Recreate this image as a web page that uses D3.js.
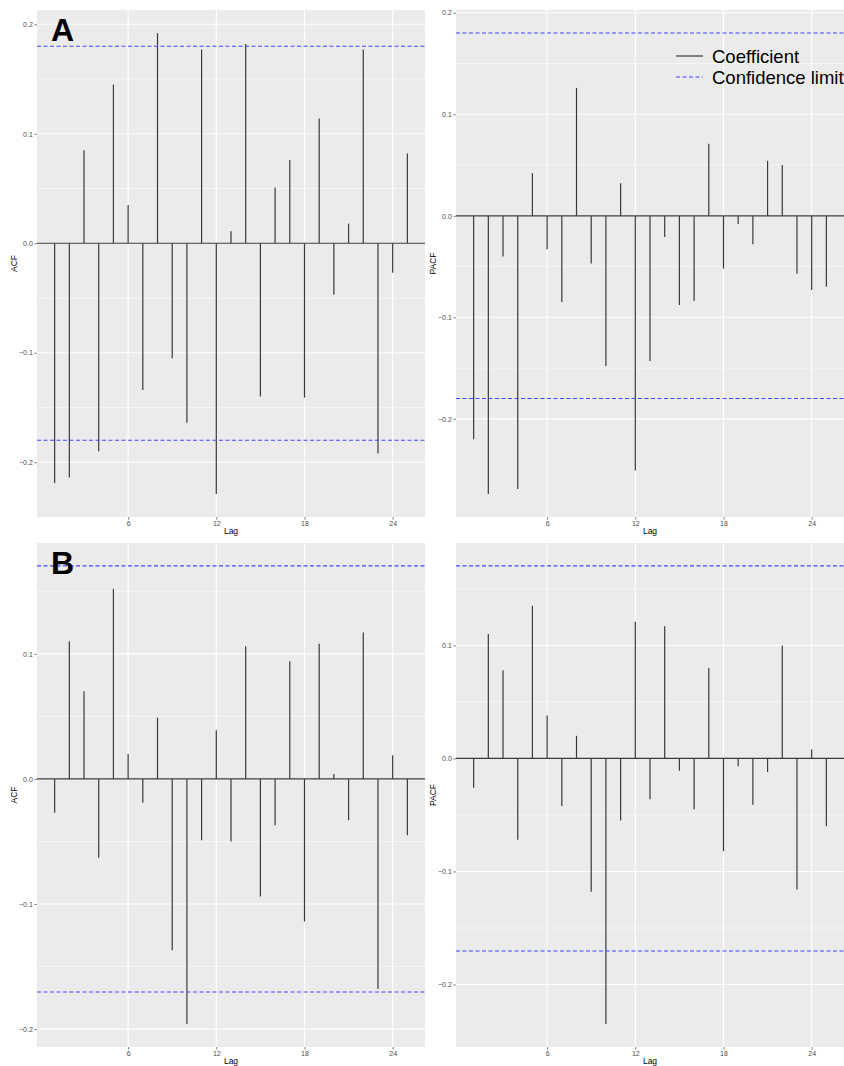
<!DOCTYPE html>
<html>
<head>
<meta charset="utf-8">
<script src="https://cdn.jsdelivr.net/npm/d3@7"></script>
<style>
  body { margin: 0; background: #fff; }
  svg { display: block; font-family: "Liberation Sans", Arial, sans-serif; }
  .grid-major line { stroke: #fff; stroke-width: 1.1; }
  .grid-minor line { stroke: #fff; stroke-width: 0.55; }
  .axis path { display: none; }
  .axis line { stroke: #333; stroke-width: 0.6; }
  .axis text { fill: #4d4d4d; font-size: 7px; }
  .stem { stroke: #3a3a3a; stroke-width: 1.2; }
  .zero { stroke: #3a3a3a; stroke-width: 1.2; }
  .conf { stroke: #4747ff; stroke-width: 1.1; stroke-dasharray: 4, 2.5; fill: none; }
</style>
</head>
<body>
<svg id="chart" width="844" height="1066"></svg>
<script>
// lags 1..25
var lags = [1, 2, 3, 4, 5, 6, 7, 8, 9, 10, 11, 12, 13, 14, 15, 16, 17, 18, 19, 20, 21, 22, 23, 24, 25];

// panel A (top row)
var acfA = [-0.219, -0.214, 0.085, -0.190, 0.145, 0.035, -0.134, 0.192, -0.105, -0.164,
            0.177, -0.229, 0.011, 0.182, -0.140, 0.051, 0.076, -0.141, 0.114, -0.047,
            0.018, 0.177, -0.192, -0.027, 0.082];
var pacfA = [-0.220, -0.274, -0.040, -0.269, 0.042, -0.033, -0.085, 0.126, -0.047, -0.148,
             0.032, -0.251, -0.143, -0.021, -0.088, -0.084, 0.071, -0.052, -0.008, -0.028,
             0.054, 0.050, -0.057, -0.073, -0.070];
var confA = 0.18;

// panel B (bottom row)
var acfB = [-0.027, 0.110, 0.070, -0.063, 0.152, 0.020, -0.019, 0.049, -0.137, -0.196,
            -0.049, 0.039, -0.050, 0.106, -0.094, -0.037, 0.094, -0.114, 0.108, 0.004,
            -0.033, 0.117, -0.168, 0.019, -0.045];
var pacfB = [-0.026, 0.110, 0.078, -0.072, 0.135, 0.038, -0.042, 0.020, -0.118, -0.235,
             -0.055, 0.121, -0.036, 0.117, -0.011, -0.045, 0.080, -0.082, -0.007, -0.041,
             -0.012, 0.100, -0.116, 0.008, -0.060];
var confB = 0.1703;

var xTicks = [6, 12, 18, 24];
var yTicks = [-0.2, -0.1, 0.0, 0.1, 0.2];
var legendLabels = ["Coefficient", "Confidence limit"];

var svg = d3.select("#chart");

function drawPanel(p) {
    var g = svg.append("g");

    // ggplot style 5% expansion
    var xExt = d3.extent(p.lags);
    var xPad = (xExt[1] - xExt[0]) * 0.05;
    var xScale = d3.scaleLinear()
        .domain([xExt[0] - xPad, xExt[1] + xPad])
        .range([p.left, p.right]);

    var yLo = Math.min(d3.min(p.values), -p.conf);
    var yHi = Math.max(d3.max(p.values), p.conf);
    var yPad = (yHi - yLo) * 0.05;
    var yScale = d3.scaleLinear()
        .domain([yLo - yPad, yHi + yPad])
        .range([p.bottom, p.top]);

    var yt = yTicks.filter(t => t >= yScale.domain()[0] && t <= yScale.domain()[1]);
    var yMinor = [];
    for (var i = 0; i < yTicks.length - 1; i++) yMinor.push((yTicks[i] + yTicks[i + 1]) / 2);
    yMinor = yMinor.filter(t => t >= yScale.domain()[0] && t <= yScale.domain()[1]);

    // panel background
    g.append("rect")
        .attr("x", p.left).attr("y", p.top)
        .attr("width", p.right - p.left).attr("height", p.bottom - p.top)
        .attr("fill", "#ebebeb");

    // minor gridlines
    g.append("g").attr("class", "grid-minor")
        .selectAll("line").data(yMinor).enter().append("line")
        .attr("x1", p.left).attr("x2", p.right)
        .attr("y1", d => yScale(d)).attr("y2", d => yScale(d));

    // major gridlines
    var major = g.append("g").attr("class", "grid-major");
    major.selectAll("line.h").data(yt).enter().append("line").attr("class", "h")
        .attr("x1", p.left).attr("x2", p.right)
        .attr("y1", d => yScale(d)).attr("y2", d => yScale(d));
    major.selectAll("line.v").data(xTicks).enter().append("line").attr("class", "v")
        .attr("y1", p.top).attr("y2", p.bottom)
        .attr("x1", d => xScale(d)).attr("x2", d => xScale(d));

    // zero line
    g.append("line").attr("class", "zero")
        .attr("x1", p.left).attr("x2", p.right)
        .attr("y1", yScale(0)).attr("y2", yScale(0));

    // stems
    g.selectAll("line.stem")
        .data(p.lags.map((l, i) => [l, p.values[i]]))
        .enter().append("line")
        .attr("class", "stem")
        .attr("x1", d => xScale(d[0])).attr("x2", d => xScale(d[0]))
        .attr("y1", yScale(0)).attr("y2", d => yScale(d[1]));

    // confidence limits
    g.selectAll("line.conf")
        .data([p.conf, -p.conf])
        .enter().append("line")
        .attr("class", "conf")
        .attr("x1", p.left).attr("x2", p.right)
        .attr("y1", d => yScale(d)).attr("y2", d => yScale(d));

    // axes
    g.append("g")
        .attr("class", "axis")
        .attr("transform", "translate(0," + p.bottom + ")")
        .call(d3.axisBottom(xScale).tickValues(xTicks).tickSize(2.7).tickPadding(1.5));

    g.append("g")
        .attr("class", "axis")
        .attr("transform", "translate(" + p.left + ",0)")
        .call(d3.axisLeft(yScale).tickValues(yt).tickSize(2.7).tickPadding(1.5)
              .tickFormat(d => d3.format(".1f")(d).replace("-", "\u2212")));

    // axis titles
    g.append("text")
        .attr("x", (p.left + p.right) / 2).attr("y", p.bottom + 17)
        .attr("text-anchor", "middle")
        .style("font-size", "8.5px")
        .text("Lag");

    g.append("text")
        .attr("transform", "translate(" + (p.left - 20) + "," + ((p.top + p.bottom) / 2) + ") rotate(-90)")
        .attr("text-anchor", "middle")
        .style("font-size", "8.5px")
        .text(p.yLabel);

    if (p.letter) {
        g.append("text")
            .attr("x", 51).attr("y", p.top + 31)
            .style("font-size", "32px")
            .style("font-weight", "bold")
            .text(p.letter);
    }

    if (p.legend) {
        var lg = g.append("g");
        lg.selectAll("line")
            .data(legendLabels)
            .enter().append("line")
            .attr("class", (d, i) => i == 0 ? "stem" : "conf")
            .attr("x1", 676).attr("x2", 703)
            .attr("y1", (d, i) => 56 + i * 21).attr("y2", (d, i) => 56 + i * 21);
        lg.selectAll("text")
            .data(legendLabels)
            .enter().append("text")
            .attr("x", 712)
            .attr("y", (d, i) => 63 + i * 21)
            .style("font-size", "18.5px")
            .text(d => d);
    }
}

drawPanel({lags: lags, values: acfA, conf: confA, yLabel: "ACF", letter: "A",
           left: 37, right: 425, top: 10, bottom: 517});
drawPanel({lags: lags, values: pacfA, conf: confA, yLabel: "PACF", legend: true,
           left: 456, right: 844, top: 10, bottom: 517});
drawPanel({lags: lags, values: acfB, conf: confB, yLabel: "ACF", letter: "B",
           left: 37, right: 425, top: 543, bottom: 1047});
drawPanel({lags: lags, values: pacfB, conf: confB, yLabel: "PACF",
           left: 456, right: 844, top: 543, bottom: 1047});
</script>
</body>
</html>
